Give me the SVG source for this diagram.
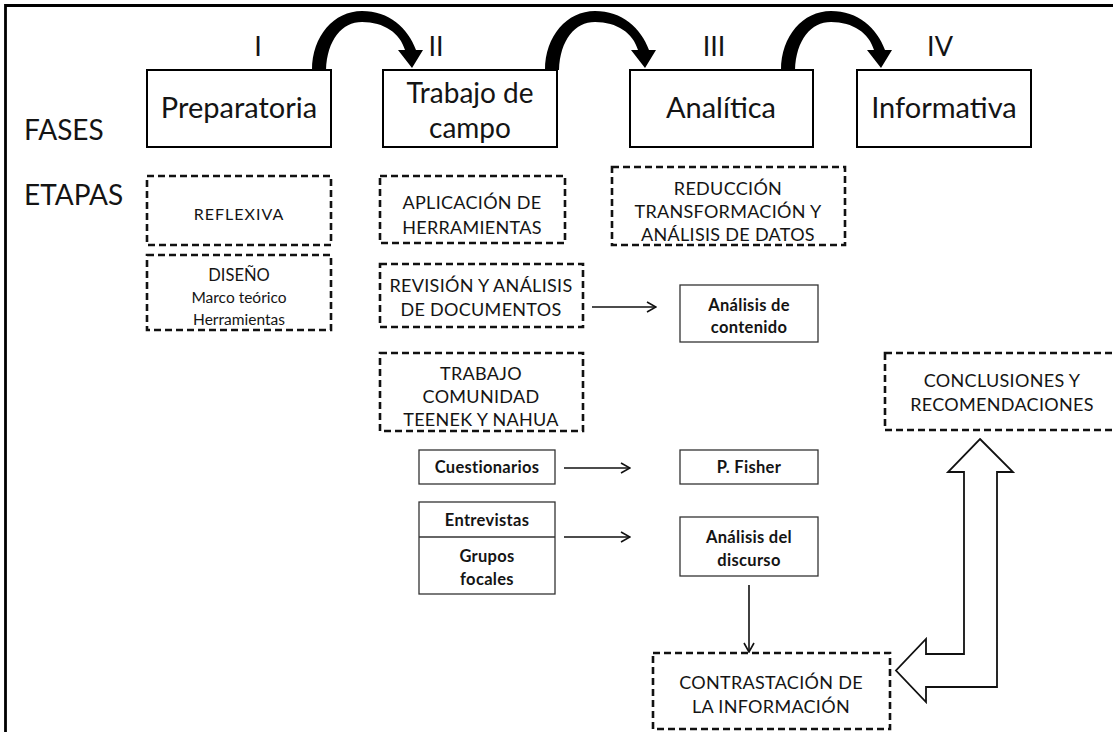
<svg xmlns="http://www.w3.org/2000/svg" width="1113" height="732" viewBox="0 0 1113 732">
<defs>
<style>
text{font-family:"Lato","Open Sans","DejaVu Sans",sans-serif;fill:#141414;text-anchor:middle}
.big{font-size:29px}
.num{font-size:27px}
.side{font-size:28px;text-anchor:start}
.cap{font-size:18px;letter-spacing:0.3px}
.lbl{font-size:16.5px;font-weight:bold;letter-spacing:0.3px}
.small{font-size:15.5px}
.phase{fill:#fff;stroke:#000;stroke-width:2}
.dash{fill:#fff;stroke:#111;stroke-width:2.6;stroke-dasharray:7 4}
.box{fill:#fff;stroke:#333;stroke-width:1.3}
.conn{stroke:#111;stroke-width:1.6;fill:none}
.curve{fill:#000}
</style>
<marker id="open" viewBox="0 0 12 12" refX="11" refY="6" markerWidth="12" markerHeight="12" markerUnits="userSpaceOnUse" orient="auto">
<path d="M2,1 L11,6 L2,11" fill="none" stroke="#111" stroke-width="1.6"/>
</marker>
<path id="curved" d="M0,70 C0,36 22,11 50,11 C77,11 96,28 104,50 L111,50 L100,68 L86,50 L93,50 C88,33 72,22 50,22 C30,22 15,40 14,70 Z"/>
</defs>
<rect width="1113" height="732" fill="#fff"/>
<path d="M5.5,732 V5.5 H1113" fill="none" stroke="#000" stroke-width="2.8"/>

<g id="labels">
<text class="side" x="24" y="140">FASES</text>
<text class="side" x="24" y="205">ETAPAS</text>
<text class="num" x="258" y="56">I</text>
<text class="num" x="436" y="56">II</text>
<text class="num" x="714" y="56">III</text>
<text class="num" x="940" y="56">IV</text>
</g>

<g id="connectors">
<use href="#curved" class="curve" x="312"/>
<use href="#curved" class="curve" x="545"/>
<use href="#curved" class="curve" x="781"/>
<line class="conn" x1="592" y1="307" x2="656" y2="307" marker-end="url(#open)"/>
<line class="conn" x1="564" y1="468" x2="630" y2="468" marker-end="url(#open)"/>
<line class="conn" x1="564" y1="537" x2="630" y2="537" marker-end="url(#open)"/>
<line class="conn" x1="749" y1="585" x2="749" y2="652" marker-end="url(#open)"/>
<polygon points="980,439 1013,472 997,472 997,687 926,687 926,702 896,670.5 926,639 926,654 964,654 964,472 948,472" fill="#fff" stroke="#111" stroke-width="1.8" stroke-linejoin="miter"/>
</g>

<g id="fase-preparatoria">
<rect class="phase" x="147" y="70" width="184" height="77"/>
<text class="big" x="239" y="118">Preparatoria</text>
</g>
<g id="fase-trabajo">
<rect class="phase" x="383" y="70" width="174" height="77"/>
<text class="big" x="470" y="103" style="font-size:28px">Trabajo de</text>
<text class="big" x="470" y="138" style="font-size:28px">campo</text>
</g>
<g id="fase-analitica">
<rect class="phase" x="630" y="70" width="183" height="77"/>
<text class="big" x="721" y="118">Analítica</text>
</g>
<g id="fase-informativa">
<rect class="phase" x="857" y="70" width="174" height="77"/>
<text class="big" x="944" y="118">Informativa</text>
</g>

<g id="reflexiva">
<rect class="dash" x="147" y="176" width="184" height="69"/>
<text class="cap" x="239" y="220" style="font-size:16px;letter-spacing:1px">REFLEXIVA</text>
</g>
<g id="diseno">
<rect class="dash" x="147" y="255" width="184" height="75"/>
<text class="small" x="239" y="281" style="font-size:16.5px">DISEÑO</text>
<text class="small" x="239" y="303">Marco teórico</text>
<text class="small" x="239" y="325">Herramientas</text>
</g>
<g id="aplicacion">
<rect class="dash" x="380" y="176" width="185" height="67"/>
<text class="cap" x="472" y="209">APLICACIÓN DE</text>
<text class="cap" x="472" y="234">HERRAMIENTAS</text>
</g>
<g id="reduccion">
<rect class="dash" x="612" y="167" width="233" height="78"/>
<text class="cap" x="728" y="195">REDUCCIÓN</text>
<text class="cap" x="728" y="218">TRANSFORMACIÓN Y</text>
<text class="cap" x="728" y="241">ANÁLISIS DE DATOS</text>
</g>
<g id="revision">
<rect class="dash" x="380" y="264" width="203" height="63"/>
<text class="cap" x="481" y="292">REVISIÓN Y ANÁLISIS</text>
<text class="cap" x="481" y="316">DE DOCUMENTOS</text>
</g>
<g id="trabajo-comunidad">
<rect class="dash" x="380" y="353" width="203" height="78"/>
<text class="cap" x="481" y="380">TRABAJO</text>
<text class="cap" x="481" y="403">COMUNIDAD</text>
<text class="cap" x="481" y="426">TEENEK Y NAHUA</text>
</g>
<g id="analisis-contenido">
<rect class="box" x="680" y="285" width="138" height="57"/>
<text class="lbl" x="749" y="311">Análisis de</text>
<text class="lbl" x="749" y="333">contenido</text>
</g>
<g id="cuestionarios">
<rect class="box" x="419" y="450" width="136" height="34"/>
<text class="lbl" x="487" y="473">Cuestionarios</text>
</g>
<g id="p-fisher">
<rect class="box" x="680" y="450" width="138" height="34"/>
<text class="lbl" x="749" y="473">P. Fisher</text>
</g>
<g id="entrevistas-grupos">
<rect class="box" x="419" y="502" width="136" height="92"/>
<line x1="419" y1="537" x2="555" y2="537" stroke="#333" stroke-width="1.3"/>
<text class="lbl" x="487" y="526">Entrevistas</text>
<text class="lbl" x="487" y="562">Grupos</text>
<text class="lbl" x="487" y="585">focales</text>
</g>
<g id="analisis-discurso">
<rect class="box" x="680" y="517" width="138" height="59"/>
<text class="lbl" x="749" y="543">Análisis del</text>
<text class="lbl" x="749" y="566">discurso</text>
</g>
<g id="conclusiones">
<rect class="dash" x="885" y="353" width="240" height="77"/>
<text class="cap" x="1002" y="387">CONCLUSIONES Y</text>
<text class="cap" x="1002" y="411">RECOMENDACIONES</text>
</g>
<g id="contrastacion">
<rect class="dash" x="653" y="653" width="237" height="76"/>
<text class="cap" x="771" y="689">CONTRASTACIÓN DE</text>
<text class="cap" x="771" y="713">LA INFORMACIÓN</text>
</g>
</svg>
